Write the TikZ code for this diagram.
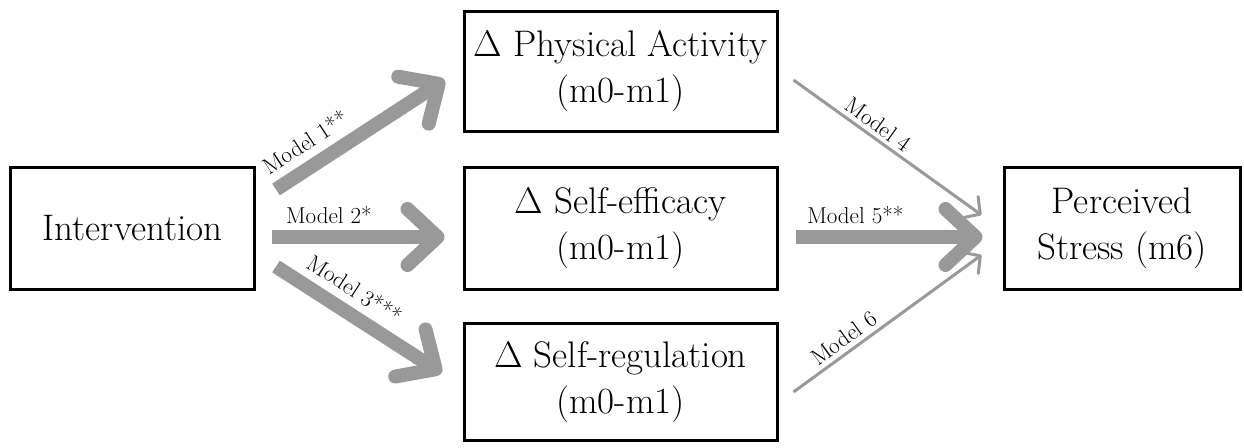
\documentclass[tikz,border=0pt]{standalone}
\usetikzlibrary{arrows.meta,calc}
\begin{document}
\begin{tikzpicture}[x=1pt,y=-1pt,
  box/.style={draw=black,line width=3pt,fill=white,align=center,inner sep=0pt,
    font=\fontsize{37}{46}\selectfont},
  midbox/.style={box,minimum width=313pt,minimum height=120pt},
  bigarrow/.style={draw=black!40,line width=14pt,
    -{Straight Barb[length=30pt,width=56pt,line cap=round,line join=round]}},
  thinarrow/.style={draw=black!40,line width=3pt,
    -{Straight Barb[length=12pt,width=26pt,line cap=round,line join=round]}},
  lbl/.style={font=\fontsize{23}{24}\selectfont,inner sep=0pt,sloped,text=black}]
\useasboundingbox (0,0) rectangle (1244,447);
\node[box,minimum width=244pt,minimum height=122pt] (int) at (132.5,228) {Intervention};
\node[midbox] (pa) at (620.5,71) {Δ Physical Activity\\(m0-m1)};
\node[midbox,minimum height=122pt] (se) at (620.5,228) {Δ Self-efficacy\\(m0-m1)};
\node[midbox,minimum height=117pt] (sr) at (620.5,382) {Δ Self-regulation\\(m0-m1)};
\node[box,minimum width=236pt,minimum height=122pt] (ps) at (1122,228) {Perceived\\Stress (m6)};

\draw[bigarrow] ($(int.north east)+(20,24)$) -- node[lbl,pos=0.25,above=8pt]{Model 1**} ($(pa.west)+(-18,9)$);
\draw[bigarrow] ($(int.east)+(16,9)$) -- node[lbl,pos=0.33,above=6pt]{Model 2*} ($(se.west)+(-18,9)$);
\draw[bigarrow] ($(int.south east)+(20,-24)$) -- node[lbl,pos=0.4,above=8pt]{Model 3***} ($(sr.west)+(-21,-9)$);
\draw[thinarrow] ($(pa.east)+(15,9)$) -- node[lbl,pos=0.41,above=4pt]{Model 4} ($(ps.west)+(-21,-13)$);
\draw[bigarrow] ($(se.east)+(17,9)$) -- node[lbl,pos=0.32,above=6pt]{Model 5**} ($(ps.west)+(-20,9)$);
\draw[thinarrow] ($(sr.east)+(15,10)$) -- node[lbl,pos=0.31,above=4pt]{Model 6} ($(ps.west)+(-21,27)$);
\end{tikzpicture}
\end{document}
